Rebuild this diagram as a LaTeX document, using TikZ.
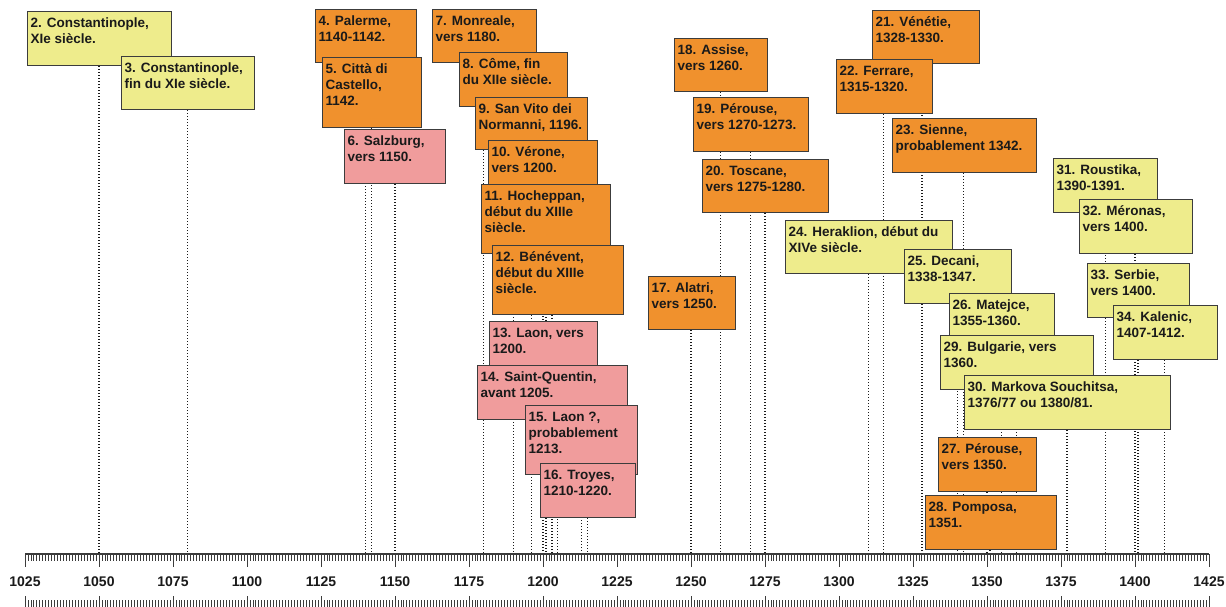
\documentclass[tikz,border=0pt]{standalone}
\usepackage{fontspec}
\setmainfont{Liberation Sans}
\usepackage{xcolor}
\usepackage{tikz}
\usetikzlibrary{backgrounds}
\definecolor{ylw}{HTML}{EEEC8C}
\definecolor{orng}{HTML}{F0912D}
\definecolor{rose}{HTML}{F09C9C}
\definecolor{edge}{HTML}{3C3C3C}
\definecolor{ink}{HTML}{1A1A1A}
\newcommand{\cardtxt}[3]{\parbox[b][#2pt][t]{#1pt}{\begin{tabular}[t]{@{}l@{}}#3\end{tabular}}}
\tikzset{
  card/.style={draw=edge, line width=1.2pt, anchor=north west, inner xsep=3pt, inner ysep=4.5pt,
    font=\fontsize{13.5}{16}\selectfont\bfseries, text=ink},
  cardy/.style={card, fill=ylw},
  cardo/.style={card, fill=orng},
  cardp/.style={card, fill=rose},
  guide/.style={draw=ink, line width=1.3pt, dash pattern=on 1.2pt off 1.8pt},
  tick/.style={draw=edge, line width=0.8pt},
  axis/.style={draw=edge, line width=1.4pt},
  yearlab/.style={font=\fontsize{14}{16}\selectfont\bfseries, text=ink},
}

\begin{document}
\begin{tikzpicture}[x=1pt, y=-1pt]
  \useasboundingbox (0,0) rectangle (1226,607);

  % cards, left to right
  \node[cardy] (b2) at (27,11) {\cardtxt{138}{45}{2. Constantinople,\\XIe siècle.}};
  \node[cardy] (b3) at (121,56) {\cardtxt{127}{44}{3. Constantinople,\\fin du XIe siècle.}};
  \node[cardo] (b4) at (315,9) {\cardtxt{95}{44}{4. Palerme,\\1140-1142.}};
  \node[cardo] (b5) at (322,57) {\cardtxt{93}{61}{5. Città di\\Castello,\\1142.}};
  \node[cardp] (b6) at (344,129) {\cardtxt{95}{45}{6. Salzburg,\\vers 1150.}};
  \node[cardo] (b7) at (432,9) {\cardtxt{98}{44}{7. Monreale,\\vers 1180.}};
  \node[cardo] (b8) at (459,52) {\cardtxt{102}{45}{8. Côme, fin\\du XIIe siècle.}};
  \node[cardo] (b9) at (475,97) {\cardtxt{106}{43}{9. San Vito dei\\Normanni, 1196.}};
  \node[cardo] (b10) at (488,140) {\cardtxt{103}{43}{10. Vérone,\\vers 1200.}};
  \node[cardo] (b11) at (481,184) {\cardtxt{123}{60}{11. Hocheppan,\\début du XIIIe\\siècle.}};
  \node[cardo] (b12) at (492,245) {\cardtxt{125}{60}{12. Bénévent,\\début du XIIIe\\siècle.}};
  \node[cardp] (b13) at (489,321) {\cardtxt{102}{45}{13. Laon, vers\\1200.}};
  \node[cardp] (b14) at (477,365) {\cardtxt{144}{45}{14. Saint-Quentin,\\avant 1205.}};
  \node[cardp] (b15) at (525,405) {\cardtxt{106}{60}{15. Laon ?,\\probablement\\1213.}};
  \node[cardp] (b16) at (540,463) {\cardtxt{89}{45}{16. Troyes,\\1210-1220.}};
  \node[cardo] (b17) at (648,276) {\cardtxt{81}{44}{17. Alatri,\\vers 1250.}};
  \node[cardo] (b18) at (674,38) {\cardtxt{87}{44}{18. Assise,\\vers 1260.}};
  \node[cardo] (b19) at (693,97) {\cardtxt{109}{45}{19. Pérouse,\\vers 1270-1273.}};
  \node[cardo] (b20) at (702,159) {\cardtxt{120}{44}{20. Toscane,\\vers 1275-1280.}};
  \node[cardo] (b21) at (872,10) {\cardtxt{101}{44}{21. Vénétie,\\1328-1330.}};
  \node[cardo] (b22) at (836,59) {\cardtxt{90}{45}{22. Ferrare,\\1315-1320.}};
  \node[cardo] (b23) at (892,118) {\cardtxt{138}{45}{23. Sienne,\\probablement 1342.}};
  \node[cardy] (b24) at (785,220) {\cardtxt{161}{44}{24. Heraklion, début du\\XIVe siècle.}};
  \node[cardy] (b25) at (904,249) {\cardtxt{101}{45}{25. Decani,\\1338-1347.}};
  \node[cardy] (b26) at (949,293) {\cardtxt{99}{45}{26. Matejce,\\1355-1360.}};
  \node[cardo] (b27) at (938,437) {\cardtxt{92}{45}{27. Pérouse,\\vers 1350.}};
  \node[cardo] (b28) at (925,495) {\cardtxt{125}{45}{28. Pomposa,\\1351.}};
  \node[cardy] (b29) at (940,335) {\cardtxt{147}{45}{29. Bulgarie, vers\\1360.}};
  \node[cardy] (b30) at (964,375) {\cardtxt{200}{45}{30. Markova Souchitsa,\\1376/77 ou 1380/81.}};
  \node[cardy] (b31) at (1053,158) {\cardtxt{98}{45}{31. Roustika,\\1390-1391.}};
  \node[cardy] (b32) at (1079,199) {\cardtxt{107}{45}{32. Méronas,\\vers 1400.}};
  \node[cardy] (b33) at (1087,263) {\cardtxt{96}{45}{33. Serbie,\\vers 1400.}};
  \node[cardy] (b34) at (1113,305) {\cardtxt{98}{45}{34. Kalenic,\\1407-1412.}};

  % time axis
  \coordinate (axl) at (25,554);
  \coordinate (axr) at (1209,554);
  \foreach \yr in {1050,1080,1140,1142,1150,1180,1190,1196,1200,1201,1203,1205,1213,1215,
                   1250,1260,1270,1275,1310,1315,1328,1340,1342,1350,1351,1355,1360,1377,
                   1390,1400,1401,1410}
    \coordinate (t\yr) at ({25+(\yr-1025)*2.96},554);
  \foreach \i in {0,...,400} {
    \draw[tick] ({25+\i*2.96},554) -- ({25+\i*2.96},561);
    \draw[tick] ({25+\i*2.96},600) -- ({25+\i*2.96},607);
  }
  \foreach \yr in {1025,1050,...,1425} {
    \draw[tick] ({25+(\yr-1025)*2.96},554) -- ({25+(\yr-1025)*2.96},567);
    \draw[tick] ({25+(\yr-1025)*2.96},596) -- ({25+(\yr-1025)*2.96},607);
    \node[yearlab] (l\yr) at ({25+(\yr-1025)*2.96},582) {\yr};
  }
  \draw[axis] (axl) -- (axr);

  % dotted date lines behind the cards
  \begin{scope}[on background layer]
    \fill[white] (0,0) rectangle (1226,607);
    \draw[guide] (b2.south -| t1050) -- (t1050);
    \draw[guide] (b3.south -| t1080) -- (t1080);
    \draw[guide] (b4.south -| t1140) -- (t1140);
    \draw[guide] (b5.south -| t1142) -- (t1142);
    \draw[guide] (b6.south -| t1150) -- (t1150);
    \draw[guide] (b7.south -| t1180) -- (t1180);
    \draw[guide] (b8.south -| t1190) -- (t1190);
    \draw[guide] (b9.south -| t1196) -- (t1196);
    \draw[guide] (b10.south -| t1200) -- (t1200);
    \draw[guide] (b11.south -| t1201) -- (t1201);
    \draw[guide] (b12.south -| t1203) -- (t1203);
    \draw[guide] (b13.south -| t1200) -- (t1200);
    \draw[guide] (b14.south -| t1205) -- (t1205);
    \draw[guide] (b15.south -| t1213) -- (t1213);
    \draw[guide] (b16.south -| t1215) -- (t1215);
    \draw[guide] (b17.south -| t1250) -- (t1250);
    \draw[guide] (b18.south -| t1260) -- (t1260);
    \draw[guide] (b19.south -| t1270) -- (t1270);
    \draw[guide] (b20.south -| t1275) -- (t1275);
    \draw[guide] (b21.south -| t1328) -- (t1328);
    \draw[guide] (b22.south -| t1315) -- (t1315);
    \draw[guide] (b23.south -| t1342) -- (t1342);
    \draw[guide] (b24.south -| t1310) -- (t1310);
    \draw[guide] (b25.south -| t1340) -- (t1340);
    \draw[guide] (b26.south -| t1355) -- (t1355);
    \draw[guide] (b27.south -| t1350) -- (t1350);
    \draw[guide] (b28.south -| t1351) -- (t1351);
    \draw[guide] (b29.south -| t1360) -- (t1360);
    \draw[guide] (b30.south -| t1377) -- (t1377);
    \draw[guide] (b31.south -| t1390) -- (t1390);
    \draw[guide] (b32.south -| t1400) -- (t1400);
    \draw[guide] (b33.south -| t1401) -- (t1401);
    \draw[guide] (b34.south -| t1410) -- (t1410);
  \end{scope}
\end{tikzpicture}
\end{document}
